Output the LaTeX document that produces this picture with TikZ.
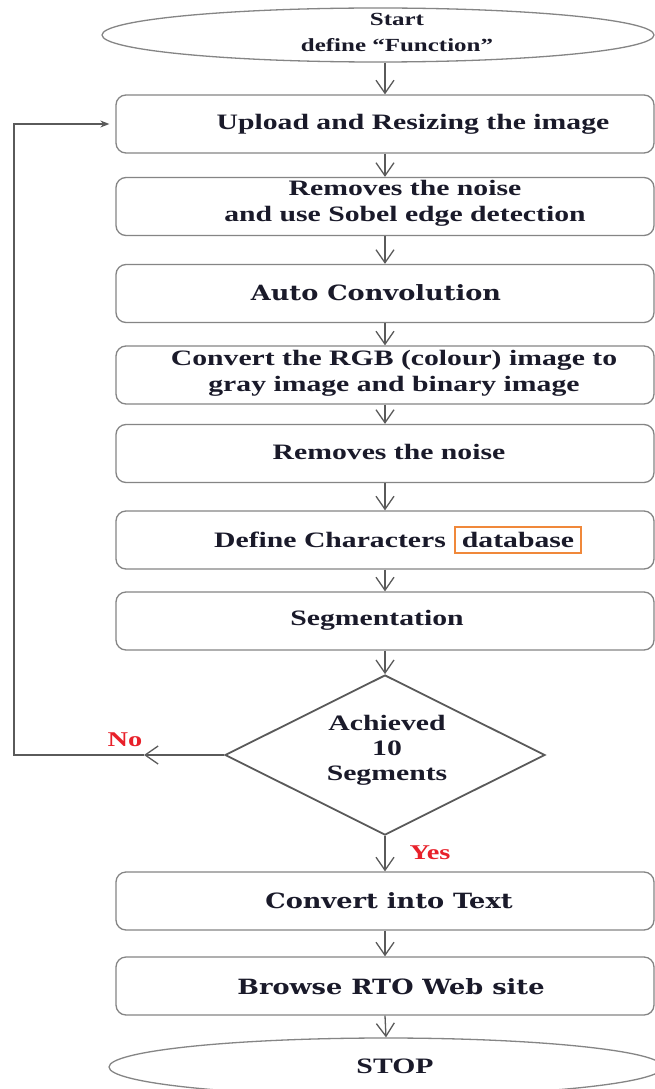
\documentclass[tikz,border=0pt]{standalone}
\usepackage{fontspec}
\setmainfont[FakeStretch=1.35]{Liberation Serif}
\newfontfamily\camb[FakeStretch=1.22]{DejaVu Serif}
\usetikzlibrary{shapes.geometric,arrows.meta}
\definecolor{lgray}{HTML}{858585}
\definecolor{dgray}{HTML}{5A5A5A}
\definecolor{ink}{HTML}{1A1A2A}
\definecolor{nored}{HTML}{E8202A}
\definecolor{orng}{HTML}{F0883A}
\begin{document}
\begin{tikzpicture}[x=1pt,y=-1pt,
  box/.style={draw=lgray, rounded corners=10pt, line width=1.3pt, inner sep=0pt, minimum width=538pt, minimum height=58pt},
  oval/.style={ellipse, draw=lgray, line width=1.3pt, inner sep=0pt},
  txt/.style={font=\bfseries\fontsize{22}{26}\selectfont, text=ink, align=center, inner sep=0pt},
  ctxt/.style={font=\camb\bfseries\fontsize{21}{25}\selectfont, text=ink, align=center, inner sep=0pt},
  lab/.style={font=\bfseries\fontsize{21}{25}\selectfont, text=nored, inner sep=0pt},
  arr/.style={draw=dgray, line width=1.3pt, -{Straight Barb[length=13pt,width=18pt]}},
  ln/.style={draw=dgray, line width=1.3pt}]
\useasboundingbox (0,0) rectangle (655,1089);
\clip (0,0) rectangle (655,1089);
\fill[white] (0,0) rectangle (655,1089);

% shapes
\node[oval, minimum width=552pt, minimum height=54pt] (start) at (378,35) {};
\node[box] (up)  at (385,124) {};
\node[box] (sob) at (385,206.5) {};
\node[box] (auto) at (385,293.5) {};
\node[box] (rgb) at (385,375) {};
\node[box] (rem) at (385,453.5) {};
\node[box] (def) at (385,540) {};
\node[box] (seg) at (385,621) {};
\node[diamond, draw=dgray, line width=1.8pt, inner sep=0pt, minimum width=320pt, minimum height=160pt] (dia) at (385,755) {};
\node[box] (ct) at (385,901) {};
\node[box] (br) at (385,986) {};
\node[oval, minimum width=554pt, minimum height=58pt] (stop) at (386,1067) {};

% texts
\node[txt, font=\bfseries\fontsize{18.5}{26}\selectfont] (tstart) at (397,32) {Start\\define “Function”};
\node[txt] (tup) at (413,124) {Upload and Resizing the image};
\node[txt] (tsob) at (405,203) {Removes the noise\\and use Sobel edge detection};
\node[ctxt] (tauto) at (376,293) {Auto Convolution};
\node[txt] (trgb) at (394,373) {Convert the RGB (colour) image to\\gray image and binary image};
\node[txt] (trem) at (389,452) {Removes the noise};
\node[txt] (tdef) at (330,540) {Define Characters};
\node[txt, draw=orng, line width=1.2pt, minimum width=126pt, minimum height=26pt] (tdb) at (518,540) {database};
\node[txt] (tseg) at (377,620) {Segmentation};
\node[txt, font=\bfseries\fontsize{22}{25}\selectfont] (tdia) at (387,750) {Achieved\\10\\Segments};
\node[ctxt] (tct) at (389,901) {Convert into Text};
\node[ctxt] (tbr) at (391,987) {Browse RTO Web site};
\node[txt] (tstop) at (395,1066) {STOP};
\node[lab] (no) at (125,740) {No};
\node[lab] (yes) at (430,853) {Yes};

% connectors
\draw[arr] (start.south -| up.north) -- (up.north);
\draw[arr] (up.south) -- (sob.north);
\draw[arr] (sob.south) -- (auto.north);
\draw[arr] (auto.south) -- (rgb.north);
\draw[arr] (rgb.south) -- (rem.north);
\draw[arr] (rem.south) -- (def.north);
\draw[arr] (def.south) -- (seg.north);
\draw[arr] (seg.south) -- (dia.north);
\draw[arr] (dia.south) -- (ct.north);
\draw[arr] (ct.south) -- (br.north);
\draw[arr] (br.south) -- (stop.north);

\coordinate (nA) at (144,755);
\coordinate (L1) at (14,755);
\draw[arr] (dia.west) -- (nA);
\draw[ln, -{Stealth[length=9pt,width=7pt]}, shorten >=6pt] (nA) -- (L1) |- (up.west);
\end{tikzpicture}
\end{document}
